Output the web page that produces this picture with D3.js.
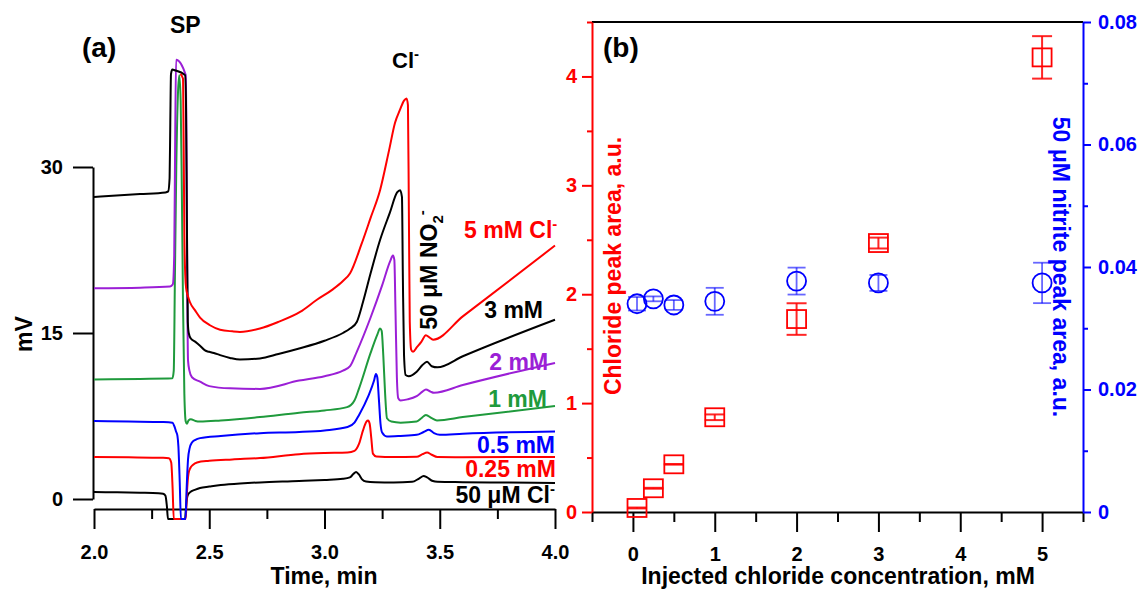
<!DOCTYPE html>
<html>
<head>
<meta charset="utf-8">
<script src="https://cdn.jsdelivr.net/npm/d3@7"></script>
<style>
  body { margin: 0; background: #fff; }
  svg text { font-family: "Liberation Sans", Arial, Helvetica, sans-serif; font-weight: bold; }
</style>
</head>
<body>
<svg id="chart" width="1142" height="590"></svg>
<script>
// ---------- Panel (a): chromatograms, [time (min), signal (mV)] ----------
const trace50uM = [[2.00,0.63],[2.10,0.60],[2.20,0.57],[2.28,0.53],[2.30,0.48],[2.31,0.3],[2.316,-0.6],[2.321,-1.8],[2.395,-1.8],[2.400,-0.5],[2.406,0.3],[2.416,0.6],[2.44,0.85],[2.46,1.0],[2.50,1.12],[2.55,1.26],[2.65,1.42],[2.72,1.5],[2.89,1.62],[3.00,1.72],[3.08,1.82],[3.11,1.95],[3.125,2.25],[3.137,2.45],[3.15,2.2],[3.163,1.78],[3.18,1.58],[3.22,1.52],[3.30,1.5],[3.38,1.55],[3.41,1.85],[3.43,2.08],[3.445,1.95],[3.47,1.62],[3.49,1.55],[3.60,1.52],[3.80,1.48],[4.00,1.45]];
const trace025mM = [[2.00,3.80],[2.15,3.77],[2.30,3.72],[2.325,3.68],[2.335,3.3],[2.341,1.0],[2.346,-1.8],[2.398,-1.8],[2.403,0.5],[2.410,2.3],[2.418,2.8],[2.43,3.1],[2.447,3.3],[2.50,3.45],[2.60,3.58],[2.72,3.7],[2.89,4.05],[3.00,4.15],[3.10,4.2],[3.13,4.35],[3.15,5.0],[3.167,6.2],[3.182,7.0],[3.189,7.1],[3.196,6.8],[3.203,5.5],[3.21,4.1],[3.225,3.85],[3.30,3.8],[3.40,3.82],[3.425,4.05],[3.445,4.2],[3.465,4.0],[3.49,3.8],[3.60,3.78],[4.00,3.80]];
const trace05mM = [[2.00,7.05],[2.15,7.0],[2.30,6.95],[2.34,6.9],[2.35,6.5],[2.356,6.1],[2.362,5.7],[2.366,4.8],[2.372,1.5],[2.377,-1.8],[2.397,-1.8],[2.402,1.0],[2.408,3.6],[2.415,4.6],[2.425,5.1],[2.44,5.35],[2.46,5.5],[2.55,5.7],[2.72,5.95],[2.89,6.05],[3.00,6.2],[3.10,6.5],[3.13,6.9],[3.15,7.6],[3.19,9.3],[3.215,10.7],[3.223,11.3],[3.229,11.0],[3.236,9.0],[3.243,6.8],[3.25,6.0],[3.27,5.65],[3.33,5.7],[3.40,5.8],[3.43,6.05],[3.453,6.25],[3.475,5.95],[3.50,5.8],[3.60,5.9],[4.00,6.1]];
const trace1mM = [[2.00,10.8],[2.20,10.85],[2.34,10.9],[2.346,11.6],[2.351,20],[2.357,30],[2.364,36.5],[2.370,38.3],[2.376,36],[2.381,28],[2.386,18],[2.392,9.5],[2.398,7.0],[2.403,6.8],[2.41,7.1],[2.42,7.2],[2.44,7.05],[2.46,7.0],[2.55,7.1],[2.72,7.4],[2.89,7.8],[3.00,8.0],[3.098,8.3],[3.13,8.9],[3.15,10.0],[3.20,13.2],[3.23,14.9],[3.241,15.4],[3.248,15.2],[3.255,13.0],[3.263,9.5],[3.271,7.3],[3.29,7.0],[3.33,6.9],[3.40,7.0],[3.42,7.3],[3.44,7.6],[3.465,7.3],[3.488,7.1],[3.60,7.4],[4.00,8.4]];
const trace2mM = [[2.00,19.05],[2.20,19.1],[2.33,19.2],[2.342,19.4],[2.348,22],[2.352,32],[2.356,39.7],[2.398,38.3],[2.402,30],[2.405,18],[2.408,12.5],[2.414,11.6],[2.425,11.0],[2.46,10.6],[2.50,10.2],[2.59,10.0],[2.72,9.95],[2.89,10.7],[3.00,11.1],[3.08,11.6],[3.111,12.0],[3.14,13.3],[3.20,16.4],[3.25,19.3],[3.285,21.5],[3.297,22.0],[3.303,21.6],[3.308,17],[3.314,11],[3.32,9.1],[3.33,8.9],[3.36,9.0],[3.40,9.3],[3.425,9.7],[3.44,9.9],[3.46,9.7],[3.475,9.6],[3.60,10.3],[4.00,12.3]];
const trace3mM = [[2.00,27.3],[2.20,27.55],[2.31,27.7],[2.322,27.8],[2.328,29],[2.331,34],[2.334,38.4],[2.34,38.8],[2.35,38.75],[2.395,38.3],[2.399,36],[2.403,25],[2.407,16],[2.411,15.0],[2.42,14.5],[2.44,14.2],[2.46,13.85],[2.48,13.45],[2.49,13.35],[2.50,13.3],[2.52,13.2],[2.547,13.0],[2.59,12.75],[2.633,12.6],[2.72,12.7],[2.80,13.1],[2.89,13.6],[3.00,14.3],[3.08,15.0],[3.111,15.4],[3.14,16.0],[3.167,17.8],[3.20,20.4],[3.241,23.4],[3.284,25.9],[3.315,27.7],[3.328,27.9],[3.336,27.3],[3.340,20],[3.345,13],[3.352,11.2],[3.365,11.1],[3.40,11.5],[3.425,12.1],[3.445,12.4],[3.465,12.0],[3.49,11.9],[3.60,12.9],[4.00,16.2]];
const trace5mM = [[2.375,38.4],[2.386,38.0],[2.389,32],[2.392,24],[2.396,20.2],[2.40,19.0],[2.408,18.3],[2.416,17.8],[2.44,17.0],[2.46,16.4],[2.503,15.7],[2.547,15.3],[2.60,15.15],[2.633,15.1],[2.72,15.4],[2.80,16.0],[2.894,16.9],[2.967,18.0],[3.033,18.9],[3.08,19.7],[3.111,20.4],[3.16,23.0],[3.20,25.4],[3.241,27.9],[3.28,31.5],[3.306,34.0],[3.328,35.2],[3.345,36.0],[3.356,36.2],[3.362,35.6],[3.366,26],[3.370,16],[3.376,13.5],[3.384,13.3],[3.40,13.7],[3.42,14.2],[3.44,14.8],[3.455,14.6],[3.471,14.4],[3.60,16.5],[4.00,22.9]];

const timeTicks = [2.0, 2.5, 3.0, 3.5, 4.0];
const timeMinorTicks = [2.25, 2.75, 3.25, 3.75];
const mvTicks = [0, 15, 30];

// ---------- Panel (b): peak areas vs. injected chloride ----------
const injectedCl = [0.05, 0.25, 0.5, 1, 2, 3, 5];
const chlorideArea = [0.037, 0.218, 0.438, 0.87, 1.772, 2.47, 4.175];
const chlorideErr = [0.004, 0.004, 0.003, 0.026, 0.145, 0.05, 0.195];
const nitriteArea = [0.0340, 0.0348, 0.0338, 0.0344, 0.0377, 0.0374, 0.0374];
const nitriteErr = [0.0011, 0.0004, 0.0008, 0.0022, 0.0022, 0.0013, 0.0033];

const concTicks = [0, 1, 2, 3, 4, 5];
const concMinorTicks = [-0.5, 0.5, 1.5, 2.5, 3.5, 4.5, 5.5];
const chlorideTicks = [0, 1, 2, 3, 4];
const chlorideMinorTicks = [0.5, 1.5, 2.5, 3.5, 4.5];
const nitriteTicks = [0, 0.02, 0.04, 0.06, 0.08];
const nitriteMinorTicks = [0.01, 0.03, 0.05, 0.07];

// ---------- drawing ----------
const FONT = '"Liberation Sans", Arial, Helvetica, sans-serif';
const RED = "#ff0000", BLUE = "#0000ff", GREEN = "#1f9a3c", PURPLE = "#9b1fd6", BLACK = "#000000";
const svg = d3.select("#chart");

function styleAxis(g, color, size) {
  g.attr("font-family", FONT).attr("font-size", size);
  g.selectAll("path, line").attr("stroke", color).attr("stroke-width", 2);
  g.selectAll("text").attr("fill", color).style("font-weight", "bold").style("font-size", size + "px");
}

// ===== Panel (a) =====
const xA = d3.scaleLinear().domain([2, 4]).range([94, 555]);
const yA = d3.scaleLinear().domain([0, 30]).range([499, 167]);

const gA = svg.append("g");

gA.append("g").attr("transform", "translate(0,509)")
  .call(d3.axisBottom(xA).tickValues(timeTicks).tickFormat(d3.format(".1f"))
    .tickSize(20).tickSizeOuter(0).tickPadding(16))
  .call(g => styleAxis(g, BLACK, 20));
gA.append("g").attr("transform", "translate(0,509)")
  .call(d3.axisBottom(xA).tickValues(timeMinorTicks).tickFormat("").tickSize(10).tickSizeOuter(0))
  .call(g => { styleAxis(g, BLACK, 20); g.select(".domain").remove(); });

gA.append("g").attr("transform", "translate(93,0)")
  .call(d3.axisLeft(yA).tickValues(mvTicks).tickSize(20).tickSizeOuter(0).tickPadding(10))
  .call(g => styleAxis(g, BLACK, 20));

const lineA = d3.line().x(d => xA(d[0])).y(d => yA(d[1])).curve(d3.curveMonotoneX);
const traces = [
  { data: trace50uM, color: BLACK },
  { data: trace025mM, color: RED },
  { data: trace05mM, color: BLUE },
  { data: trace1mM, color: GREEN },
  { data: trace2mM, color: PURPLE },
  { data: trace3mM, color: BLACK },
  { data: trace5mM, color: RED }
];
traces.forEach(tr => {
  gA.append("path").attr("d", lineA(tr.data))
    .attr("fill", "none").attr("stroke", tr.color)
    .attr("stroke-width", 2).attr("stroke-linejoin", "round");
});

// trace labels (anchored at their right end)
function traceLabel(main, sup, color, t, v) {
  const txt = gA.append("text").attr("x", xA(t)).attr("y", yA(v))
    .attr("text-anchor", "end").attr("fill", color).style("font-size", "23px");
  txt.append("tspan").text(main);
  if (sup) txt.append("tspan").attr("dy", -9).style("font-size", "15px").text(sup);
}
traceLabel("5 mM Cl", "-", RED, 4.01, 23.6);
traceLabel("3 mM", null, BLACK, 3.948, 16.35);
traceLabel("2 mM", null, PURPLE, 3.97, 11.65);
traceLabel("1 mM", null, GREEN, 3.965, 8.31);
traceLabel("0.5 mM", null, BLUE, 4.0, 4.16);
traceLabel("0.25 mM", null, RED, 4.004, 1.99);
traceLabel("50 μM Cl", "-", BLACK, 4.0, -0.36);

// nitrite peak label (vertical)
const no2 = gA.append("text")
  .attr("transform", `translate(${xA(3.487)},${yA(15.3)}) rotate(-90)`)
  .attr("fill", BLACK).style("font-size", "23px");
no2.append("tspan").text("50 μM NO");
no2.append("tspan").attr("dy", 6).style("font-size", "15px").text("2");
no2.append("tspan").attr("dy", -16).style("font-size", "15px").text("-");

// peak annotations
svg.append("text").attr("x", 170).attr("y", 33).style("font-size", "23px").text("SP");
const clPeak = svg.append("text").attr("x", 392).attr("y", 68).style("font-size", "22px");
clPeak.append("tspan").text("Cl");
clPeak.append("tspan").attr("dy", -9).style("font-size", "15px").text("-");

svg.append("text").attr("x", 82).attr("y", 57).style("font-size", "28px").text("(a)");
svg.append("text").attr("x", 324).attr("y", 584).attr("text-anchor", "middle")
  .style("font-size", "23px").text("Time, min");
svg.append("text").attr("transform", "translate(32,334) rotate(-90)")
  .attr("text-anchor", "middle").style("font-size", "23px").text("mV");

// ===== Panel (b) =====
const xB = d3.scaleLinear().domain([-0.5, 5.5]).range([592, 1083]);
const yL = d3.scaleLinear().domain([0, 4.5]).range([512, 22]);
const yR = d3.scaleLinear().domain([0, 0.08]).range([512, 22]);

const gB = svg.append("g");

gB.append("line").attr("x1", 592).attr("x2", 1083).attr("y1", 22).attr("y2", 22)
  .attr("stroke", BLACK).attr("stroke-width", 2);

gB.append("g").attr("transform", "translate(0,512)")
  .call(d3.axisBottom(xB).tickValues(concTicks).tickFormat(d3.format("d"))
    .tickSize(20).tickSizeOuter(0).tickPadding(15))
  .call(g => styleAxis(g, BLACK, 20));
gB.append("g").attr("transform", "translate(0,512)")
  .call(d3.axisBottom(xB).tickValues(concMinorTicks).tickFormat("").tickSize(10).tickSizeOuter(0))
  .call(g => { styleAxis(g, BLACK, 20); g.select(".domain").remove(); });

gB.append("g").attr("transform", "translate(592,0)")
  .call(d3.axisLeft(yL).tickValues(chlorideTicks).tickFormat(d3.format("d"))
    .tickSize(10).tickSizeOuter(0).tickPadding(5))
  .call(g => styleAxis(g, RED, 20));
gB.append("g").attr("transform", "translate(592,0)")
  .call(d3.axisLeft(yL).tickValues(chlorideMinorTicks).tickFormat("").tickSize(5).tickSizeOuter(0))
  .call(g => { styleAxis(g, RED, 20); g.select(".domain").remove(); });

gB.append("g").attr("transform", "translate(1083,0)")
  .call(d3.axisRight(yR).tickValues(nitriteTicks).tickFormat(d => d === 0 ? "0" : d3.format(".2f")(d))
    .tickSize(8).tickSizeOuter(0).tickPadding(7))
  .call(g => styleAxis(g, BLUE, 20));
gB.append("g").attr("transform", "translate(1083,0)")
  .call(d3.axisRight(yR).tickValues(nitriteMinorTicks).tickFormat("").tickSize(5).tickSizeOuter(0))
  .call(g => { styleAxis(g, BLUE, 20); g.select(".domain").remove(); });

// chloride: squares with error bars
const clPts = injectedCl.map((c, i) => ({ c, v: chlorideArea[i], e: chlorideErr[i] }));
const clG = gB.append("g");
clPts.forEach(p => {
  const cx = xB(p.c);
  const g = clG.append("g").attr("stroke", RED).attr("fill", "none");
  g.append("line").attr("x1", cx).attr("x2", cx).attr("y1", yL(p.v - p.e)).attr("y2", yL(p.v + p.e))
    .attr("stroke-width", 2).attr("stroke-opacity", 0.85);
  [p.v - p.e, p.v + p.e].forEach(b => g.append("line")
    .attr("x1", cx - 10).attr("x2", cx + 10).attr("y1", yL(b)).attr("y2", yL(b))
    .attr("stroke-width", 2).attr("stroke-opacity", 0.85));
  g.append("rect").attr("x", cx - 9.5).attr("y", yL(p.v) - 9).attr("width", 19).attr("height", 18)
    .attr("stroke-width", 1.8);
});

// nitrite: circles with error bars
const noPts = injectedCl.map((c, i) => ({ c, v: nitriteArea[i], e: nitriteErr[i] }));
const noG = gB.append("g");
noPts.forEach(p => {
  const cx = xB(p.c);
  const g = noG.append("g").attr("stroke", BLUE).attr("fill", "none");
  g.append("line").attr("x1", cx).attr("x2", cx).attr("y1", yR(p.v - p.e)).attr("y2", yR(p.v + p.e))
    .attr("stroke-width", 1.8).attr("stroke-opacity", 0.6);
  [p.v - p.e, p.v + p.e].forEach(b => g.append("line")
    .attr("x1", cx - 9).attr("x2", cx + 9).attr("y1", yR(b)).attr("y2", yR(b))
    .attr("stroke-width", 1.8).attr("stroke-opacity", 0.6));
  g.append("circle").attr("cx", cx).attr("cy", yR(p.v)).attr("r", 9.5).attr("stroke-width", 1.8);
});

svg.append("text").attr("x", 603).attr("y", 57).style("font-size", "28px").text("(b)");
svg.append("text").attr("x", 838).attr("y", 584).attr("text-anchor", "middle")
  .style("font-size", "23px").text("Injected chloride concentration, mM");
svg.append("text").attr("transform", "translate(621,266) rotate(-90)")
  .attr("text-anchor", "middle").attr("fill", RED).style("font-size", "23px")
  .text("Chloride peak area, a.u.");
svg.append("text").attr("transform", "translate(1053,267) rotate(90)")
  .attr("text-anchor", "middle").attr("fill", BLUE).style("font-size", "23px")
  .text("50 μM nitrite peak area, a.u.");
</script>
</body>
</html>
